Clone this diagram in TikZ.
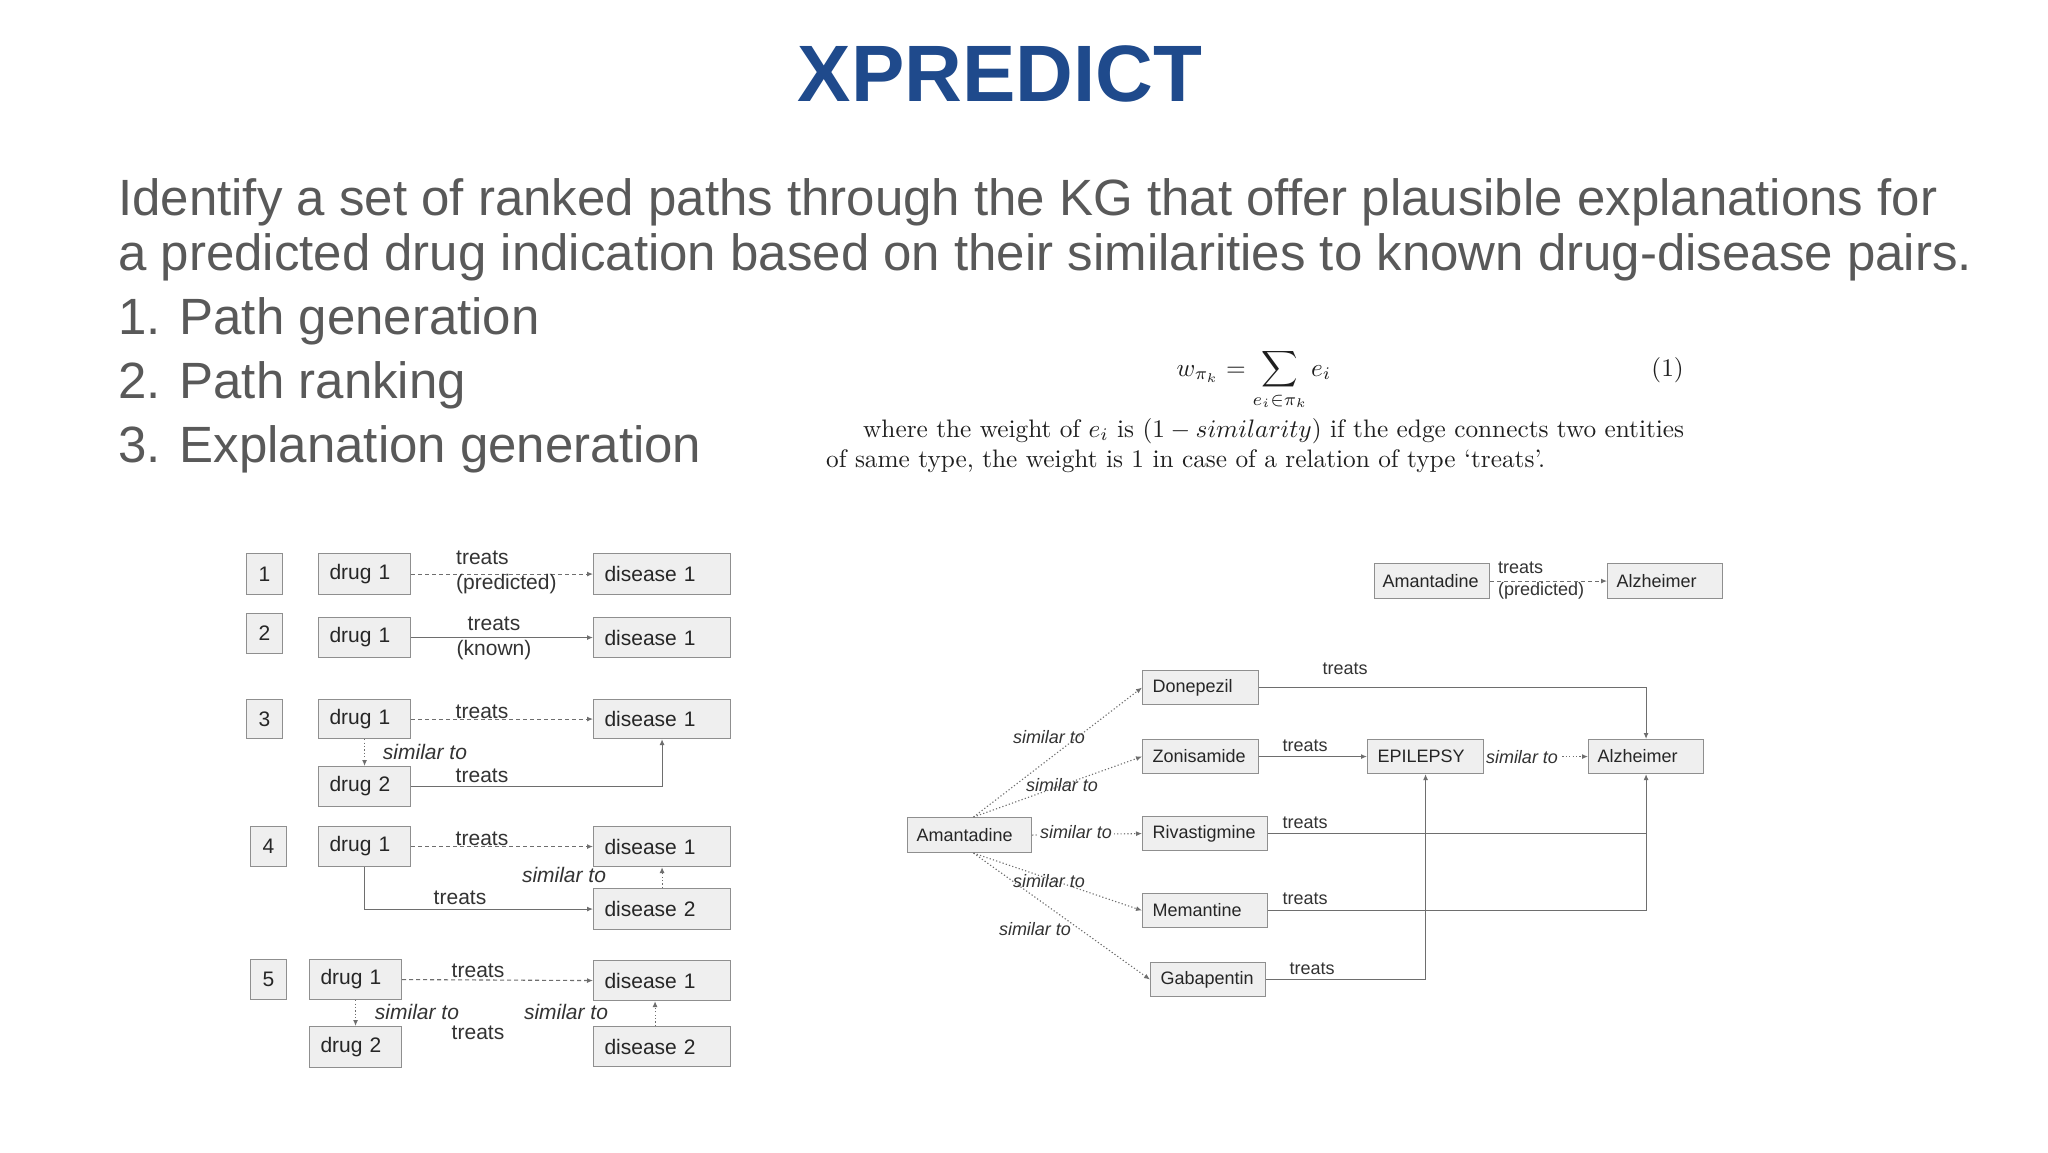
\documentclass[tikz,border=0pt]{standalone}
\usepackage{fontspec}
\setsansfont{Liberation Sans}
\usepackage{graphicx}
\usetikzlibrary{arrows.meta}
\definecolor{titleblue}{HTML}{1F4A8C}
\definecolor{bodygray}{HTML}{595959}
\definecolor{boxfill}{HTML}{EFEFEF}
\definecolor{boxline}{HTML}{8F8F8F}
\definecolor{edgegray}{HTML}{6E6E6E}
\definecolor{labelcol}{HTML}{333333}
\newcommand{\mybox}[8]{%
  \pgfmathsetmacro\bxw{#5-#3-2*#7}%
  \pgfmathsetmacro\bxh{#6-#4}%
  \node[#1, anchor=north west, inner xsep=#7pt, text width=\bxw pt, minimum height=\bxh pt] (#2) at (#3,#4) {#8};%
}
\tikzset{
  boxbase/.style={draw=boxline, fill=boxfill, line width=1.1pt, inner ysep=0pt, align=left, text=black!85},
  lbox/.style={boxbase, font=\sffamily\fontsize{21}{24}\selectfont},
  rbox/.style={boxbase, font=\sffamily\fontsize{18}{21}\selectfont},
  nbox/.style={boxbase, align=center, font=\sffamily\fontsize{21}{24}\selectfont},
  edge/.style={draw=edgegray, line width=1.1pt, -{Latex[length=6pt,width=5pt]}},
  plainedge/.style={draw=edgegray, line width=1.1pt},
  dashedge/.style={edge, dash pattern=on 4pt off 3pt},
  dotedge/.style={edge, dash pattern=on 1.2pt off 2.2pt},
  llbl/.style={font=\sffamily\fontsize{21}{25}\selectfont, text=labelcol, inner sep=0pt, anchor=base},
  rlbl/.style={font=\sffamily\fontsize{18}{22}\selectfont, text=labelcol, inner sep=0pt, anchor=base},
  inl/.style={fill=white, inner xsep=2pt, inner ysep=1pt},
  body/.style={anchor=base west, inner sep=0pt, font=\sffamily\fontsize{51}{54}\selectfont, text=bodygray},
  paper/.style={inner sep=0pt, text=black!88},
}
\begin{document}
\begin{tikzpicture}[x=1pt,y=-1pt]
\fill[white] (0,0) rectangle (2048,1152);
\useasboundingbox (0,0) rectangle (2048,1152);

% title and body text
\node[anchor=base, inner sep=0pt, font=\sffamily\bfseries\fontsize{80}{80}\selectfont, text=titleblue] (title) at (1000,101) {XPREDICT};
\node[body] (t1) at (118,215) {Identify a set of ranked paths through the KG that offer plausible explanations for};
\node[body] (t2) at (118,270) {a predicted drug indication based on their similarities to known drug-disease pairs.};
\node[body] (t3) at (118,334) {1. Path generation};
\node[body] (t4) at (118,398) {2. Path ranking};
\node[body] (t5) at (118,462) {3. Explanation generation};

% formula
\node[paper, anchor=base] (eq) at (1254,376) {\scalebox{2.53}{$\displaystyle w_{\pi_k} = \sum_{e_i\in\pi_k} e_i$}};
\node[paper, anchor=base east] (eqn) at (1684,376) {\scalebox{2.53}{(1)}};
\node[paper, anchor=base west] (p1) at (863,437) {\scalebox{2.53}{\makebox[324.5pt][s]{where the weight of $e_i$ is $(1-similarity)$ if the edge connects two entities}}};
\node[paper, anchor=base west] (p2) at (826,467) {\scalebox{2.53}{of same type, the weight is 1 in case of a relation of type `treats'.}};

% left diagram boxes
\mybox{nbox}{n1}{246}{553}{282}{594}{0}{1}
\mybox{lbox}{d1}{318}{553}{410}{594}{11}{drug 1}
\mybox{lbox}{s1}{593}{553}{730}{594}{11}{disease 1}
\mybox{nbox}{n2}{246}{613}{282}{653}{0}{2}
\mybox{lbox}{d2}{318}{617}{410}{657}{11}{drug 1}
\mybox{lbox}{s2}{593}{617}{730}{657}{11}{disease 1}
\mybox{nbox}{n3}{246}{699}{282}{738}{0}{3}
\mybox{lbox}{d3a}{318}{699}{410}{738}{11}{drug 1}
\mybox{lbox}{s3}{593}{699}{730}{738}{11}{disease 1}
\mybox{lbox}{d3b}{318}{766}{410}{806}{11}{drug 2}
\mybox{nbox}{n4}{250}{826}{286}{866}{0}{4}
\mybox{lbox}{d4}{318}{826}{410}{866}{11}{drug 1}
\mybox{lbox}{s4a}{593}{826}{730}{866}{11}{disease 1}
\mybox{lbox}{s4b}{593}{888}{730}{929}{11}{disease 2}
\mybox{nbox}{n5}{250}{959}{286}{999}{0}{5}
\mybox{lbox}{d5a}{309}{959}{401}{999}{11}{drug 1}
\mybox{lbox}{s5a}{593}{960}{730}{1000}{11}{disease 1}
\mybox{lbox}{d5b}{309}{1026}{401}{1067}{11}{drug 2}
\mybox{lbox}{s5b}{593}{1026}{730}{1066}{11}{disease 2}

% left diagram edges
\draw[dashedge] (d1.east) -- (s1.west);
\draw[edge] (d2.east) -- (s2.west);
\draw[dashedge] (d3a.east) -- (s3.west);
\draw[dotedge] (d3a.south) -- (d3b.north);
\draw[edge] (d3b.east) -| (s3.south);
\draw[dashedge] (d4.east) -- (s4a.west);
\draw[edge] (d4.south) |- (s4b.west);
\draw[dotedge] (s4b.north) -- (s4a.south);
\draw[dashedge] (d5a.east) -- (s5a.west);
\draw[dotedge] (d5a.south) -- (d5b.north);
\draw[dotedge] ([xshift=-7pt]s5b.north) -- ([xshift=-7pt]s5a.south);

% left diagram labels
\node[llbl, anchor=base west, align=left] (l1) at (456,589) {treats\\(predicted)};
\node[llbl, align=center] (l2) at (494,655) {treats\\(known)};
\node[llbl] (l3a) at (482,718) {treats};
\node[llbl, font=\sffamily\itshape\fontsize{21}{25}\selectfont] (l3b) at (425,759) {similar to};
\node[llbl] (l3c) at (482,782) {treats};
\node[llbl] (l4a) at (482,845) {treats};
\node[llbl, font=\sffamily\itshape\fontsize{21}{25}\selectfont] (l4b) at (564,882) {similar to};
\node[llbl] (l4c) at (460,904) {treats};
\node[llbl] (l5a) at (478,977) {treats};
\node[llbl, font=\sffamily\itshape\fontsize{21}{25}\selectfont] (l5b) at (417,1019) {similar to};
\node[llbl, font=\sffamily\itshape\fontsize{21}{25}\selectfont] (l5c) at (566,1019) {similar to};
\node[llbl] (l5d) at (478,1039) {treats};

% right diagram boxes
\mybox{rbox}{amaT}{1374}{563}{1489}{598}{8}{Amantadine}
\mybox{rbox}{alzT}{1607}{563}{1722}{598}{9}{Alzheimer}
\mybox{rbox}{don}{1142}{670}{1258}{704}{10}{Donepezil}
\mybox{rbox}{zon}{1142}{739}{1258}{773}{10}{Zonisamide}
\mybox{rbox}{epi}{1367}{739}{1483}{773}{10}{EPILEPSY}
\mybox{rbox}{alz}{1588}{739}{1703}{773}{9}{Alzheimer}
\mybox{rbox}{ama}{907}{817}{1031}{852}{9}{Amantadine}
\mybox{rbox}{riv}{1142}{816}{1267}{850}{10}{Rivastigmine}
\mybox{rbox}{mem}{1142}{893}{1267}{927}{10}{Memantine}
\mybox{rbox}{gab}{1150}{962}{1265}{996}{10}{Gabapentin}

% right diagram edges
\draw[dashedge] (amaT.east) -- (alzT.west);
\draw[edge] (don.east) -| (alz.north);
\draw[edge] (zon.east) -- (epi.west);
\draw[dotedge] (epi.east) -- (alz.west);
\draw[dotedge] (ama.east) -- (riv.west);
\draw[plainedge] (riv.east) -- (riv.east -| alz.south);
\draw[edge] (mem.east) -| (alz.south);
\draw[edge] (gab.east) -| (epi.south);
\coordinate (amaN) at ([xshift=4pt]ama.north);
\coordinate (amaS) at ([xshift=4pt]ama.south);
\draw[dotedge] (amaN) -- (don.west);
\draw[dotedge] (amaN) -- (zon.west);
\draw[dotedge] (amaS) -- (mem.west);
\draw[dotedge] (amaS) -- (gab.west);

% right diagram labels
\node[rlbl, anchor=base west, align=left] (r0) at (1498,595) {treats\\(predicted)};
\node[rlbl] (r1) at (1345,674) {treats};
\node[rlbl] (r2) at (1305,751) {treats};
\node[rlbl, inl, font=\sffamily\itshape\fontsize{18}{22}\selectfont] (r3) at (1522,763) {similar to};
\node[rlbl, font=\sffamily\itshape\fontsize{18}{22}\selectfont] (r4) at (1049,743) {similar to};
\node[rlbl, font=\sffamily\itshape\fontsize{18}{22}\selectfont] (r5) at (1062,791) {similar to};
\node[rlbl, inl, font=\sffamily\itshape\fontsize{18}{22}\selectfont] (r6) at (1076,838) {similar to};
\node[rlbl] (r7) at (1305,828) {treats};
\node[rlbl, font=\sffamily\itshape\fontsize{18}{22}\selectfont] (r8) at (1049,887) {similar to};
\node[rlbl] (r9) at (1305,904) {treats};
\node[rlbl, font=\sffamily\itshape\fontsize{18}{22}\selectfont] (r10) at (1035,935) {similar to};
\node[rlbl] (r11) at (1312,974) {treats};
\end{tikzpicture}
\end{document}
